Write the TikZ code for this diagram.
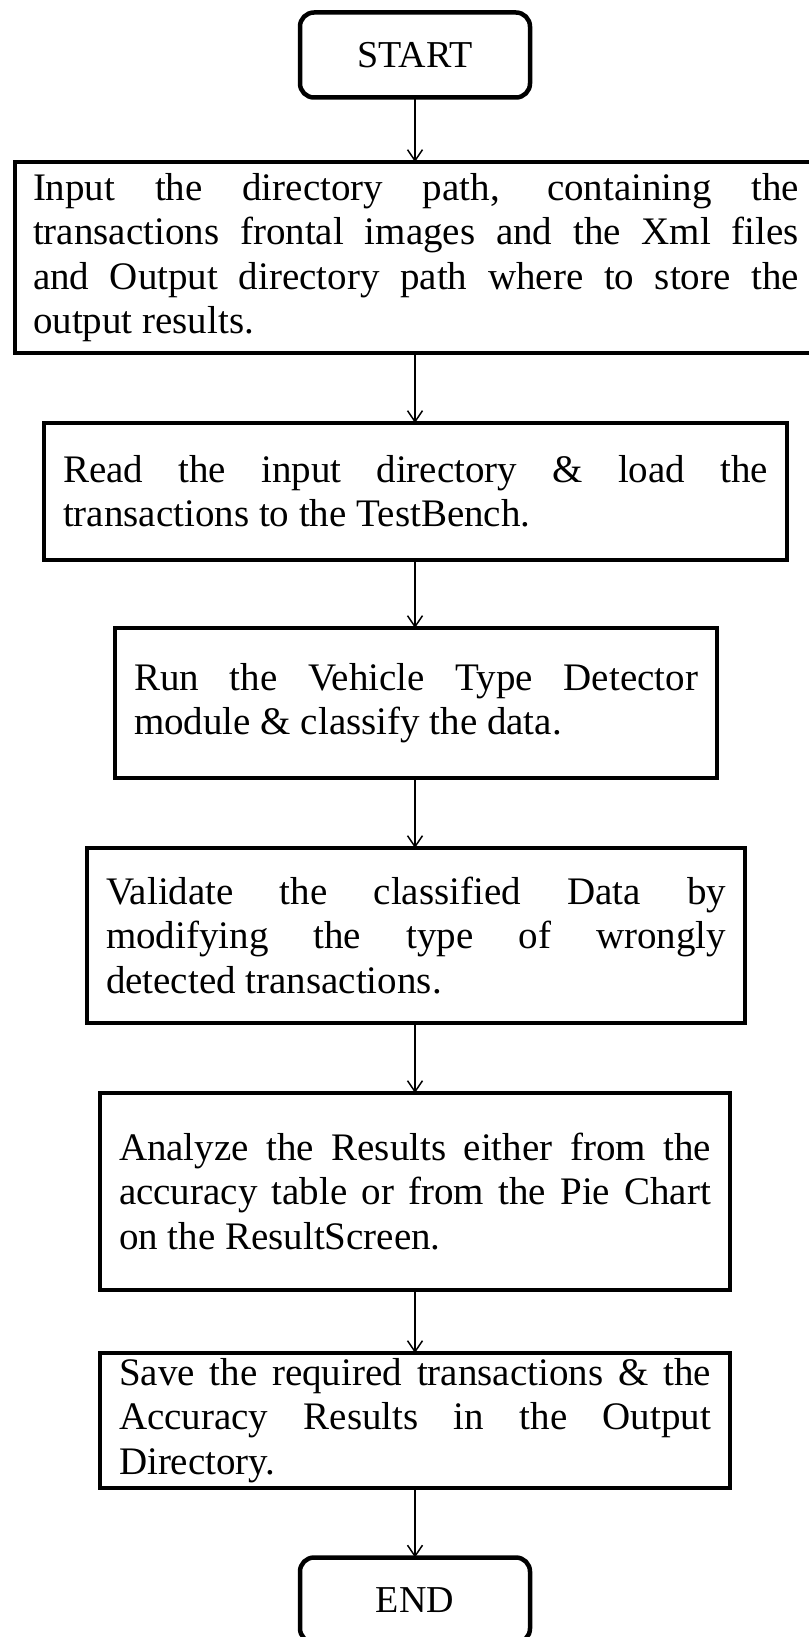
\documentclass[tikz,border=0pt]{standalone}
\usepackage{fontspec}
\setmainfont{Liberation Serif}
\usetikzlibrary{positioning,arrows.meta}

\begin{document}
\begin{tikzpicture}[x=1pt,y=-1pt]
    \tikzset{
        procbox/.style={draw,line width=4.5pt,rectangle,anchor=north west,outer sep=0pt,
            inner xsep=19pt,inner ysep=0pt,align=justify,
            font=\fontsize{39}{44.4}\selectfont,
            execute at begin node={\hyphenpenalty=10000}},
        termbox/.style={draw,line width=4.5pt,rounded corners=14pt,minimum width=230pt,
            minimum height=85pt,outer sep=0pt,font=\fontsize{38}{44}\selectfont},
        flow/.style={line width=1.5pt,-{Straight Barb[length=11pt,width=15pt]}},}
    \useasboundingbox (0,0) rectangle (808,1637);
    \node[termbox] (start) at (415,55) {START};
    \node[procbox,inner xsep=18pt,text width=766pt,minimum height=191pt] (input) at (15,162)
        {Input the directory path, containing the\linebreak
         transactions frontal images and the Xml files\linebreak
         and Output directory path where to store the\linebreak
         output results.};
    \node[procbox,text width=705pt,minimum height=137pt] (read) at (44,423)
        {Read the input directory \& load the\linebreak
         transactions to the TestBench.};
    \node[procbox,text width=564pt,minimum height=150pt] (run) at (115,628)
        {Run the Vehicle Type Detector\linebreak
         module \& classify the data.};
    \node[procbox,text width=620pt,minimum height=175pt] (valid) at (87,848)
        {Validate the classified Data by\linebreak
         modifying the type of wrongly\linebreak
         detected transactions.};
    \node[procbox,text width=592pt,minimum height=197pt] (analyze) at (100,1093)
        {Analyze the Results either from the\linebreak
         accuracy table or from the Pie Chart\linebreak
         on the ResultScreen.};
    \node[procbox,text width=592pt,minimum height=135pt] (save) at (100,1353)
        {Save the required transactions \& the\linebreak
         Accuracy Results in the Output\linebreak
         Directory.};
    \node[termbox] (end) at (415,1600) {END};
    % connectors
    \draw[flow] (start.south) -- (start.south |- input.north);
    \draw[flow] (start.south |- input.south) -- (start.south |- read.north);
    \draw[flow] (start.south |- read.south) -- (start.south |- run.north);
    \draw[flow] (start.south |- run.south) -- (start.south |- valid.north);
    \draw[flow] (start.south |- valid.south) -- (start.south |- analyze.north);
    \draw[flow] (start.south |- analyze.south) -- (start.south |- save.north);
    \draw[flow] (start.south |- save.south) -- (end.north);
\end{tikzpicture}
\end{document}
